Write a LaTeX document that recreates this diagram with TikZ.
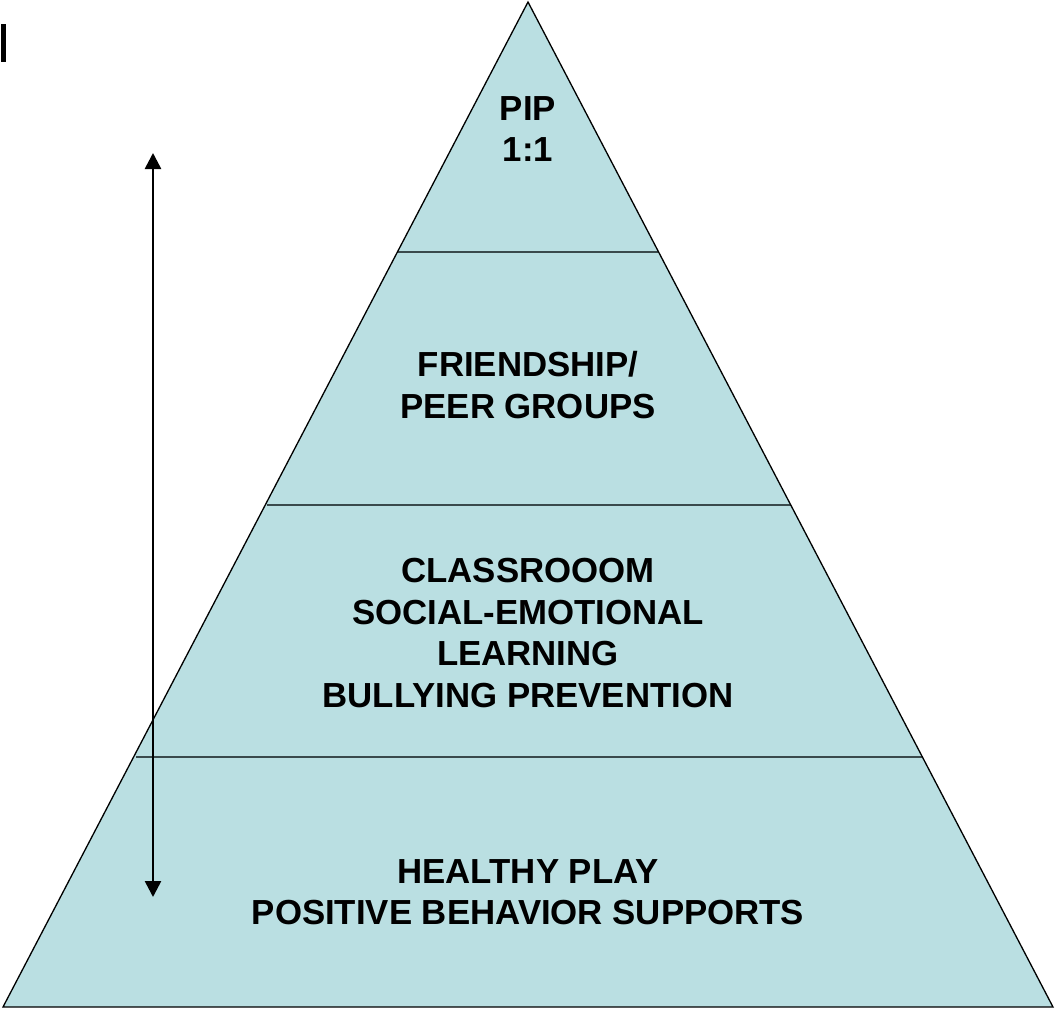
\documentclass[tikz,border=0pt]{standalone}
\usepackage{fontspec}
\setmainfont{Liberation Sans}
\usetikzlibrary{arrows.meta}
\definecolor{pyrfill}{HTML}{BADFE2}
\definecolor{divline}{HTML}{3A4A4C}
\begin{document}
\begin{tikzpicture}[x=1pt,y=-1pt,
  label text/.style={align=center,font=\fontsize{34.8}{41.5}\selectfont\bfseries,inner sep=0pt},
  divider/.style={draw=divline,line width=2pt},
  outline/.style={draw=black,line width=1.3pt,line join=miter}]
\useasboundingbox (0,0) rectangle (1057,1009);
% pyramid
\coordinate (apex) at (528,2);
\coordinate (bl) at (3,1007);
\coordinate (br) at (1053,1007);
\fill[pyrfill] (apex) -- (br) -- (bl) -- cycle;
% dividers
\draw[divider] (398,252) -- (659,252);
\draw[divider] (267,505) -- (791,505);
\draw[divider] (136,757) -- (922,757);
\draw[outline] (apex) -- (br) -- (bl) -- cycle;
% texts
\node[label text] (t1) at (528,129) {PIP\\1:1};
\node[label text] (t2) at (528,385) {FRIENDSHIP/\\PEER GROUPS};
\node[label text] (t3) at (528,633) {CLASSROOOM\\SOCIAL-EMOTIONAL\\LEARNING\\BULLYING PREVENTION};
\node[label text] (t4) at (528,892) {HEALTHY PLAY\\POSITIVE BEHAVIOR SUPPORTS};
% arrow
\coordinate (atop) at (153,153);
\coordinate (abot) at (153,897);
\draw[line width=2.6pt,{Triangle[length=16pt,width=16pt]}-{Triangle[length=16pt,width=16pt]}] (atop) -- (abot);
% bar
\fill[black] (1,24) rectangle (6,62);
\end{tikzpicture}
\end{document}
